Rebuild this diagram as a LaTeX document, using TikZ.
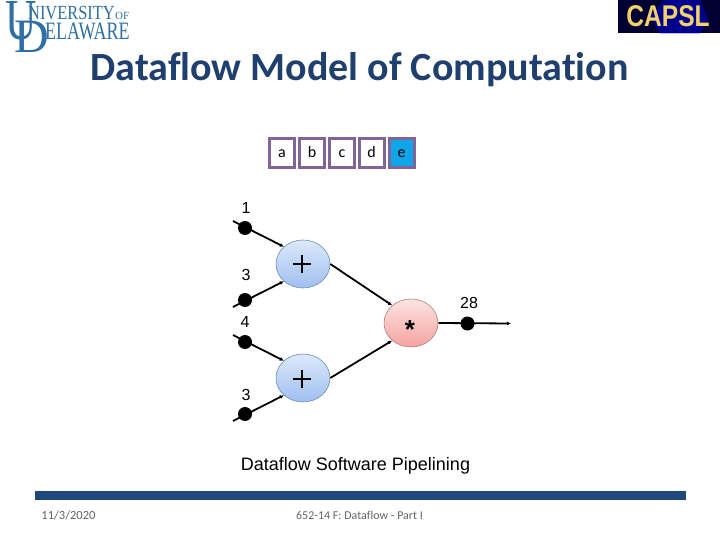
\documentclass[tikz,border=0pt]{standalone}
\usepackage{fontspec}
\setmainfont{Liberation Sans}
\newfontfamily\carlito[Ligatures=NoCommon]{Carlito}
\newfontfamily\lserif{Liberation Serif}
\usetikzlibrary{arrows.meta,shapes.geometric}
\definecolor{udblue}{HTML}{2F6FA3}
\definecolor{titleblue}{HTML}{1F3F6E}
\definecolor{barblue}{HTML}{1F497D}
\definecolor{boxpurple}{HTML}{7F659A}
\definecolor{footgray}{HTML}{646464}
\definecolor{capsgold}{HTML}{F2D26A}
\definecolor{cellcyan}{HTML}{10A5E8}
\definecolor{HTMLaddedge}{HTML}{6F8FB5}
\definecolor{HTMLaddtop}{HTML}{DDE8FB}
\definecolor{HTMLaddbot}{HTML}{9FBFF0}
\definecolor{HTMLmuledge}{HTML}{B57F7F}
\definecolor{HTMLmultop}{HTML}{FBE4E2}
\definecolor{HTMLmulbot}{HTML}{F5A3A0}
\tikzset{
  memcell/.style={draw=boxpurple,line width=3pt,minimum width=25pt,minimum height=29pt,inner sep=0pt,text height=9pt,text depth=0pt,font=\carlito\fontsize{16}{16}\selectfont},
  addop/.style={ellipse,draw=HTMLaddedge,line width=0.6pt,minimum width=54pt,minimum height=48pt,inner sep=0pt,top color=HTMLaddtop,bottom color=HTMLaddbot},
  mulop/.style={ellipse,draw=HTMLmuledge,line width=0.6pt,minimum width=54pt,minimum height=48pt,inner sep=0pt,top color=HTMLmultop,bottom color=HTMLmulbot},
  token/.style={circle,fill=black,minimum size=14pt,inner sep=0pt},
  wire/.style={line width=1.8pt,-{Latex[length=4pt,width=4pt]}},
  lab/.style={font=\fontsize{16}{16}\selectfont,inner sep=0pt},
  logotext/.style={text=udblue,inner sep=0pt,anchor=base west},
}
\begin{document}
\begin{tikzpicture}[x=1pt,y=-1pt]
\useasboundingbox (0,0) rectangle (720,540);
% logo
\node[logotext,font=\lserif\fontsize{58}{58}\selectfont,xscale=.75] (bigu) at (5,40) {U};
\node[logotext,font=\lserif\fontsize{48}{48}\selectfont] (bigd) at (14,53) {D};
\node[logotext,font=\lserif\fontsize{20}{20}\selectfont,xscale=.82] (uni) at (28,20) {NIVERSITY};
\node[logotext,font=\lserif\fontsize{11}{11}\selectfont] (of) at (115,20) {OF};
\node[logotext,font=\lserif\fontsize{25}{25}\selectfont,xscale=.72] (del) at (45,40) {ELAWARE};
% capsl
\fill[black!80!blue] (618,0) rectangle (720,33.5);
\fill[blue!70!black,opacity=.7] (660,33.5) -- (650,16) -- (665,0) -- (700,0) -- (708,20) -- (700,33.5) -- cycle;
\node[font=\bfseries\fontsize{30}{30}\selectfont,text=capsgold,inner sep=0pt,xscale=.82] (capsl) at (668,16.5) {CAPSL};
% title
\node[font=\carlito\bfseries\fontsize{40}{40}\selectfont,text=titleblue,inner sep=0pt] (title) at (359.5,69.5) {Dataflow Model of Computation};
% memory cells
\node[memcell] (a) at (282,153) {a};
\node[memcell] (b) at (312,153) {b};
\node[memcell] (c) at (342,153) {c};
\node[memcell] (d) at (371.5,153) {d};
\node[memcell,fill=cellcyan] (e) at (401.5,153) {e};
% ops
\node[addop] (p1) at (303,264) {};
\node[addop] (p2) at (303,378) {};
\node[mulop] (m) at (411,323) {};
\draw[line width=2.8pt] (293,264) -- (311,264) (302,255) -- (302,273);
\draw[line width=2.8pt] (293,379) -- (311,379) (302,370) -- (302,388);
\node[font=\bfseries\fontsize{26}{26}\selectfont,inner sep=0pt] (star) at (410,329.5) {*};
% inputs
\coordinate (i1) at (233,221);
\coordinate (i2) at (233,307);
\coordinate (i3) at (233,335);
\coordinate (i4) at (233,421);
\coordinate (o) at (511,323.5);
\draw[wire] (i1) -- (p1.138);
\draw[wire] (i2) -- (p1.222);
\draw[wire] (i3) -- (p2.138);
\draw[wire] (i4) -- (p2.222);
\draw[wire] (p1.east) -- (m.137);
\draw[wire] (p2.east) -- (m.223);
\draw[wire] (m.east) -- (o);
\node[token] (t1) at (245,228) {};
\node[token] (t2) at (245,300) {};
\node[token] (t3) at (245,342) {};
\node[token] (t4) at (245,414) {};
\node[token] (t5) at (467.5,323.5) {};
% labels
\node[lab] (l1) at (246,208) {1};
\node[lab] (l2) at (246,274.5) {3};
\node[lab] (l3) at (245,322) {4};
\node[lab] (l4) at (246,394.5) {3};
\node[lab] (l5) at (469,302.5) {28};
\node[font=\fontsize{18}{18}\selectfont,inner sep=0pt] (cap) at (355.5,465.5) {Dataflow Software Pipelining};
% footer
\fill[barblue] (35,491) rectangle (686,500);
\node[font=\carlito\fontsize{12.5}{12.5}\selectfont,text=footgray,inner sep=0pt] (date) at (68.5,515) {11/3/2020};
\node[font=\carlito\fontsize{12}{12}\selectfont,text=footgray,inner sep=0pt] (foot) at (359.5,515) {652-14 F: Dataflow - Part I};
\end{tikzpicture}
\end{document}
